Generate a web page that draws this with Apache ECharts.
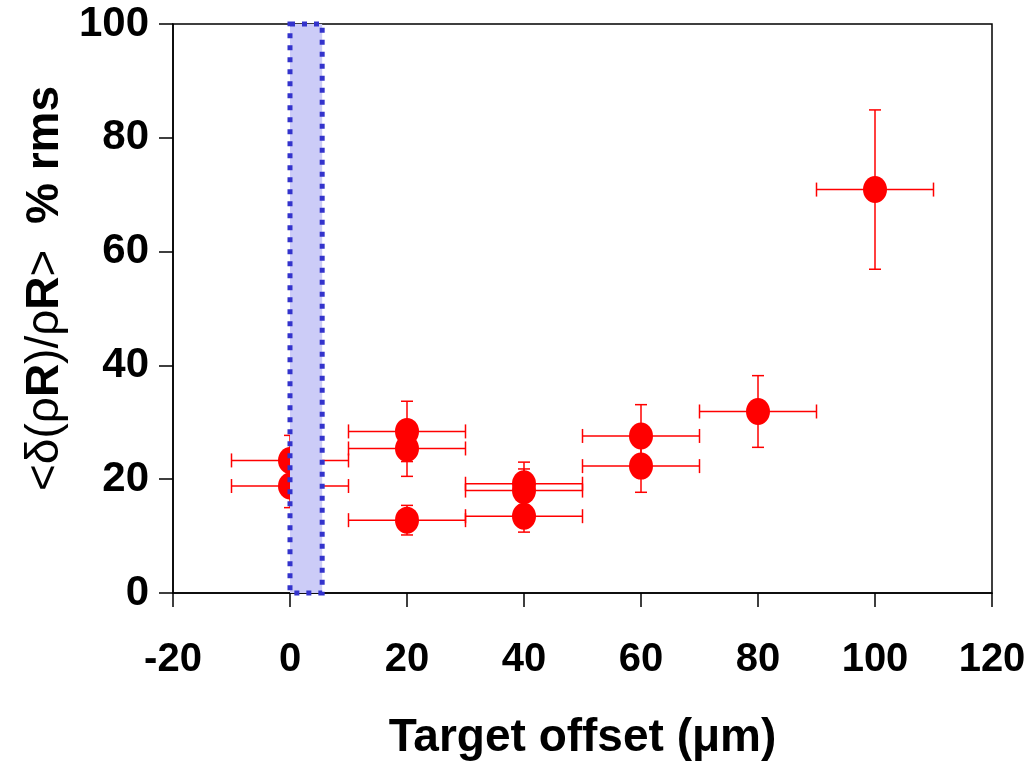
<!DOCTYPE html>
<html>
<head>
<meta charset="utf-8">
<script src="https://cdn.jsdelivr.net/npm/echarts@6/dist/echarts.min.js"></script>
<style>
  html, body { margin: 0; padding: 0; background: #fff; }
  #chart { width: 1035px; height: 766px; }
</style>
</head>
<body>
<div id="chart"></div>
<script>
// target offset (um) of each shot
const offsets = [0, 0, 20, 20, 20, 40, 40, 40, 60, 60, 80, 100];
// <d(rhoR)/rhoR> % rms
const values = [23.3, 18.8, 28.4, 25.4, 12.8, 19.2, 18.0, 13.5, 27.6, 22.3, 31.9, 70.9];
const xErr = [10, 10, 10, 10, 10, 10, 10, 10, 10, 10, 10, 10];
const yErr = [4.4, 3.8, 5.3, 4.9, 2.6, 3.8, 3.8, 2.8, 5.5, 4.6, 6.3, 14.0];
// shaded region on the x axis
const bandX = [0, 5.5];
const bandY = [0, 100];
const xTicks = [-20, 0, 20, 40, 60, 80, 100, 120];
const yTicks = [0, 20, 40, 60, 80, 100];

const chart = echarts.init(document.getElementById('chart'));

const points = offsets.map((x, i) => [x, values[i], xErr[i], yErr[i]]);

const font = '"Liberation Sans", Arial, sans-serif';

const option = {
  backgroundColor: '#fff',
  animation: false,
  grid: {
    left: 173, right: 43, top: 24, bottom: 172,
    show: true, borderColor: '#000', borderWidth: 1.5
  },
  xAxis: {
    type: 'value',
    min: xTicks[0], max: xTicks[xTicks.length - 1], interval: 20,
    name: 'Target offset (μm)',
    nameLocation: 'middle',
    nameGap: 122,
    nameTextStyle: { fontFamily: font, fontWeight: 'bold', fontSize: 46, color: '#000' },
    axisLine: { onZero: false, lineStyle: { color: '#000', width: 1.5 } },
    axisTick: { length: 14, lineStyle: { color: '#000', width: 1.5 } },
    axisLabel: { margin: 47, fontFamily: font, fontWeight: 'bold', fontSize: 40, color: '#000' },
    splitLine: { show: false }
  },
  yAxis: {
    type: 'value',
    min: yTicks[0], max: yTicks[yTicks.length - 1], interval: 20,
    name: '{g|<δ(ρ}{b|R}{g|)/ρ}{b|R}{g|>}{b|  % rms}',
    nameLocation: 'middle',
    nameGap: 64,
    nameRotate: 90,
    nameTextStyle: {
      color: '#000',
      padding: [0, 0, 0, 40],
      rich: {
        b: { fontFamily: font, fontWeight: 'bold', fontSize: 46, color: '#000' },
        g: { fontFamily: font, fontWeight: 'normal', fontSize: 46, color: '#000' }
      }
    },
    axisLine: { onZero: false, lineStyle: { color: '#000', width: 1.5 } },
    axisTick: { length: 14, lineStyle: { color: '#000', width: 1.5 } },
    axisLabel: { margin: 24, fontFamily: font, fontWeight: 'bold', fontSize: 42, color: '#000' },
    splitLine: { show: false }
  },
  series: [
    {
      // error bars
      type: 'custom',
      z: 2,
      data: points,
      renderItem: function (params, api) {
        const x = api.value(0), y = api.value(1);
        const dx = api.value(2), dy = api.value(3);
        const l = api.coord([x - dx, y]);
        const r = api.coord([x + dx, y]);
        const t = api.coord([x, y + dy]);
        const b = api.coord([x, y - dy]);
        const style = { stroke: '#ff0000', lineWidth: 1.5 };
        const cw = 6, ch = 7;
        return {
          type: 'group',
          children: [
            { type: 'line', shape: { x1: l[0], y1: l[1], x2: r[0], y2: r[1] }, style: style },
            { type: 'line', shape: { x1: t[0], y1: t[1], x2: b[0], y2: b[1] }, style: style },
            { type: 'line', shape: { x1: l[0], y1: l[1] - ch, x2: l[0], y2: l[1] + ch }, style: style },
            { type: 'line', shape: { x1: r[0], y1: r[1] - ch, x2: r[0], y2: r[1] + ch }, style: style },
            { type: 'line', shape: { x1: t[0] - cw, y1: t[1], x2: t[0] + cw, y2: t[1] }, style: style },
            { type: 'line', shape: { x1: b[0] - cw, y1: b[1], x2: b[0] + cw, y2: b[1] }, style: style }
          ]
        };
      }
    },
    {
      type: 'scatter',
      z: 3,
      symbol: 'circle',
      symbolSize: [24, 27],
      itemStyle: { color: '#ff0000', opacity: 1 },
      data: offsets.map((x, i) => [x, values[i]])
    },
    {
      // shaded band over x = 0 .. 5.5
      type: 'custom',
      z: 4,
      data: [[bandX[0], bandY[0], bandX[1], bandY[1]]],
      renderItem: function (params, api) {
        const p0 = api.coord([api.value(0), api.value(3)]);
        const p1 = api.coord([api.value(2), api.value(1)]);
        return {
          type: 'rect',
          shape: { x: p0[0], y: p0[1], width: p1[0] - p0[0], height: p1[1] - p0[1] },
          style: { fill: '#ccccf7', stroke: '#3333cc', lineWidth: 5, lineDash: [5, 7] }
        };
      }
    }
  ]
};

chart.setOption(option);
</script>
</body>
</html>
